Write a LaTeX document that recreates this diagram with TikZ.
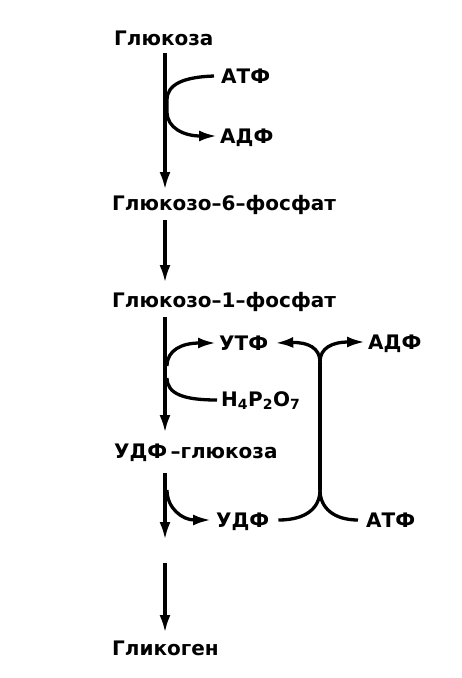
\documentclass[tikz,border=0pt]{standalone}
\usepackage{fontspec}
\setmainfont{DejaVu Sans}
\usetikzlibrary{arrows.meta}
\tikzset{
  lbl/.style={anchor=west,inner sep=0pt,text height=14.6pt,text depth=0pt,
    font=\fontsize{20}{22}\selectfont\bfseries},
  main/.style={line width=3.5pt,->},
  side/.style={line width=3.3pt},
}
\begin{document}
\begin{tikzpicture}[x=1pt,y=-1pt,>={Latex[length=18pt,width=11pt]}]
\useasboundingbox (0,0) rectangle (462,678);
\coordinate (axis) at (165,0);
\coordinate (bar) at (320,0);
% main chain
\node[lbl] (glc) at (114,38) {Глюкоза};
\node[lbl] (g6p) at (112,203) {Глюкозо–6–фосфат};
\node[lbl] (g1p) at (112,300) {Глюкозо–1–фосфат};
\node[lbl] (udpg) at (114,451) {УДФ\,–глюкоза};
\node[lbl] (glyc) at (112,648) {Гликоген};
% side substances
\node[lbl] (atf1) at (221,76) {АТФ};
\node[lbl] (adf1) at (220,136) {АДФ};
\node[lbl] (utf) at (219,343) {УТФ};
\node[lbl] (ppi) at (221,399) {H\textsubscript{4}P\textsubscript{2}O\textsubscript{7}};
\node[lbl] (udf) at (216,520) {УДФ};
\node[lbl] (adf2) at (368,342) {АДФ};
\node[lbl] (atf2) at (366,520) {АТФ};
\coordinate (gapA) at (165,540);
\coordinate (gapB) at (165,563);
% main arrows
\draw[main] ([yshift=-7.5pt]glc.south -| axis) -- ([yshift=5.5pt]g6p.north -| axis);
\draw[main] ([yshift=-9.5pt]g6p.south -| axis) -- ([yshift=9.5pt]g1p.north -| axis);
\draw[main] ([yshift=-9.5pt]g1p.south -| axis) -- ([yshift=10.5pt]udpg.north -| axis);
\draw[main] ([yshift=-14.5pt]udpg.south -| axis) -- (gapA);
\draw[main] (gapB) -- ([yshift=7.5pt]glyc.north -| axis);
% АТФ -> АДФ
\draw[side,->] ([xshift=-7pt]atf1.west) .. controls (184,77) and (167,84) .. (167,100)
  -- (167,112) .. controls (167,128) and (184,136) .. ([xshift=-3pt]adf1.west);
% УТФ + H4P2O7
\draw[side,->] (167,366) .. controls (167,350) and (182,343) .. ([xshift=-3pt]utf.west);
\draw[side] ([xshift=-4pt]ppi.west |- 0,400) .. controls (184,400) and (167,394) .. (167,378);
% УДФ
\draw[side,->] (167,490) .. controls (167,508) and (182,520) .. ([xshift=-5pt]udf.west);
% regeneration of УТФ
\coordinate (bartop) at (bar |- 0,362);
\coordinate (barbot) at (bar |- 0,490);
\draw[side] (bartop) -- (barbot);
\draw[side,->] (bartop) .. controls (320,348) and (308,342) .. ([xshift=7pt]utf.east);
\draw[side,->] (bartop) .. controls (320,348) and (332,342) .. ([xshift=-3pt]adf2.west);
\draw[side] ([xshift=9pt]udf.east) .. controls (306,520) and (320,508) .. (barbot);
\draw[side] (barbot) .. controls (320,508) and (334,520) .. ([xshift=-8pt]atf2.west);
\end{tikzpicture}
\end{document}
